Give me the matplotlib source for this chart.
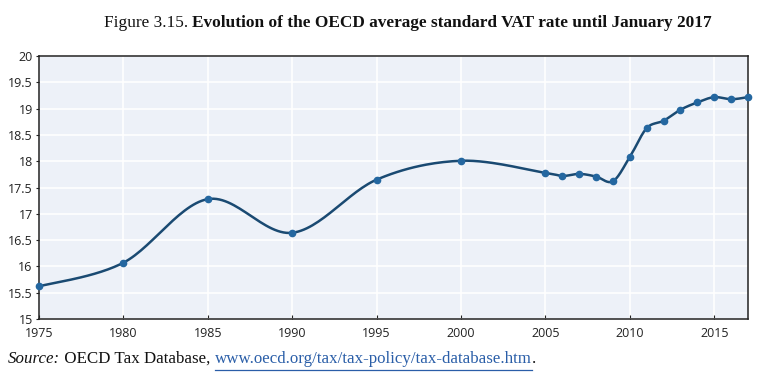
import numpy as np
import matplotlib
matplotlib.use("Agg")
import matplotlib.pyplot as plt
from matplotlib.lines import Line2D
from matplotlib.ticker import FuncFormatter

years = [1975, 1980, 1985, 1990, 1995, 2000, 2005, 2006, 2007, 2008, 2009,
         2010, 2011, 2012, 2013, 2014, 2015, 2016, 2017]
vat_rate = [15.62, 16.07, 17.28, 16.64, 17.65, 18.01, 17.78, 17.72, 17.76, 17.71,
            17.62, 18.08, 18.63, 18.77, 18.98, 19.12, 19.22, 19.18, 19.22]
x_ticks = [1975, 1980, 1985, 1990, 1995, 2000, 2005, 2010, 2015]
y_ticks = [15, 15.5, 16, 16.5, 17, 17.5, 18, 18.5, 19, 19.5, 20]

title_prefix = "Figure 3.15. "
title_main = "Evolution of the OECD average standard VAT rate until January 2017"
src_label = "Source:"
src_text = " OECD Tax Database, "
src_url = "www.oecd.org/tax/tax-policy/tax-database.htm"
src_end = "."


def smooth_curve(xs, ys, n=30):
    """Parametric Catmull-Rom (Excel-like smoothed line) through the points."""
    P = np.column_stack([xs, ys]).astype(float)
    P = np.vstack([P[0], P, P[-1]])
    out = []
    t = np.linspace(0, 1, n)
    for i in range(1, len(P) - 2):
        p0, p1, p2, p3 = P[i - 1], P[i], P[i + 1], P[i + 2]
        c1 = p1 + (p2 - p0) / 6.0
        c2 = p2 - (p3 - p1) / 6.0
        seg = ((1 - t) ** 3)[:, None] * p1 + (3 * (1 - t) ** 2 * t)[:, None] * c1 \
            + (3 * (1 - t) * t ** 2)[:, None] * c2 + (t ** 3)[:, None] * p2
        out.append(seg if i == 1 else seg[1:])
    out = np.vstack(out)
    return out[:, 0], out[:, 1]


fig = plt.figure(figsize=(7.64, 3.82), dpi=100)
ax = fig.add_axes([0.051, 0.165, 0.928, 0.688])
ax.set_facecolor("#edf1f8")

sx, sy = smooth_curve(years, vat_rate)
ax.plot(sx, sy, color="#1a4a72", lw=1.8, zorder=3, solid_capstyle="round")
ax.plot(years, vat_rate, "o", color="#2467a0", ms=4.5, zorder=4, clip_on=False)

ax.set_xlim(1975, 2017)
ax.set_ylim(15, 20)
ax.set_xticks(x_ticks)
ax.set_yticks(y_ticks)
ax.yaxis.set_major_formatter(FuncFormatter(lambda v, p: f"{v:g}"))
ax.grid(True, color="white", lw=1.2)
ax.set_axisbelow(True)
for s in ax.spines.values():
    s.set_color("#222222")
    s.set_linewidth(1.1)
ax.tick_params(axis="x", direction="in", length=3, width=0.8, colors="#222222",
               labelsize=9, pad=6)
ax.tick_params(axis="y", direction="out", length=2.5, width=0.8, colors="#222222",
               labelsize=9, pad=2)
for lab in ax.get_xticklabels() + ax.get_yticklabels():
    lab.set_fontfamily("Open Sans")
    lab.set_color("#222222")

fig.canvas.draw()
r = fig.canvas.get_renderer()
W, H = fig.bbox.width, fig.bbox.height

# Title
tfs = 12.4
t1 = fig.text(0, 0, title_prefix, fontsize=tfs, family="Liberation Serif",
              color="#111111", va="baseline")
t2 = fig.text(0, 0, title_main, fontsize=tfs, family="Liberation Serif",
              weight="bold", color="#111111", va="baseline")
w1 = t1.get_window_extent(r).width
w2 = t2.get_window_extent(r).width
x0 = (W - (w1 + w2)) / 2 + 26
yb = 1 - 27 / H
t1.set_position((x0 / W, yb))
t2.set_position(((x0 + w1) / W, yb))

# Source line
sfs = 12.2
ys = 1 - 363 / H
pieces = [(src_label, dict(style="italic", color="#111111")),
          (src_text, dict(color="#111111")),
          (src_url, dict(color="#2a5ea8")),
          (src_end, dict(color="#111111"))]
xc = 8
for txt, kw in pieces:
    t = fig.text(xc / W, ys, txt, fontsize=sfs, family="Liberation Serif",
                 va="baseline", **kw)
    ext = t.get_window_extent(r)
    if txt == src_url:
        fig.add_artist(Line2D([xc / W, (xc + ext.width) / W],
                              [1 - 369.5 / H, 1 - 369.5 / H],
                              color="#2a5ea8", lw=0.9, transform=fig.transFigure))
    xc += ext.width

fig.savefig("out.png", dpi=100)
